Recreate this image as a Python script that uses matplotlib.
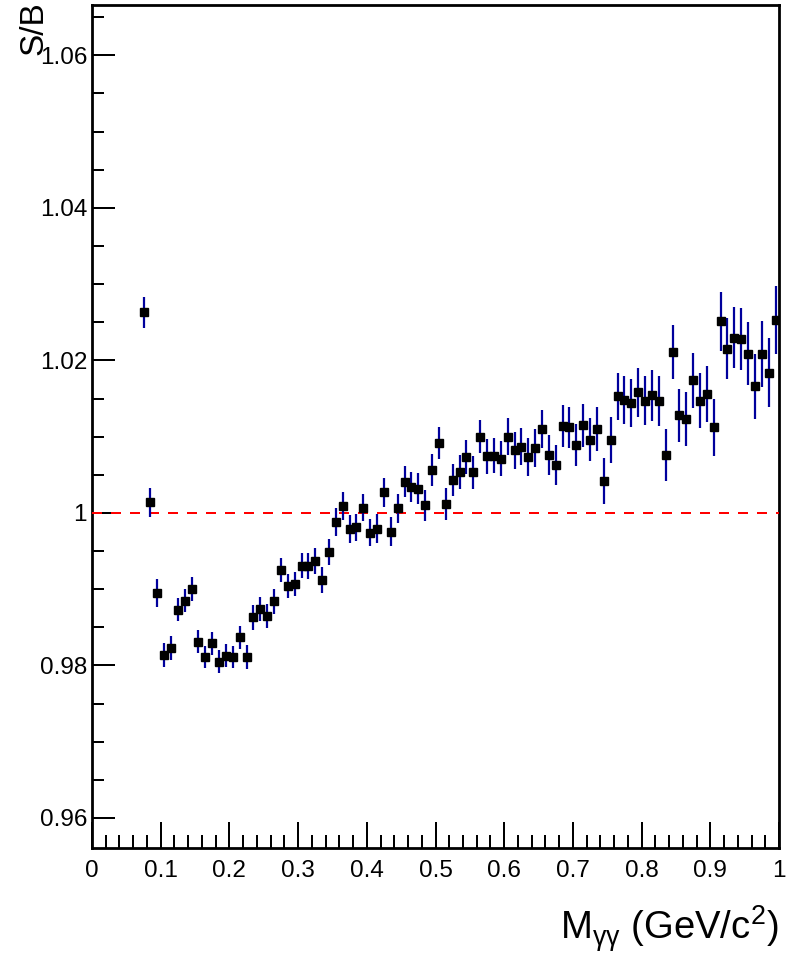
import numpy as np
import matplotlib
matplotlib.use("Agg")
import matplotlib.pyplot as plt
from matplotlib.ticker import MultipleLocator, FormatStrFormatter

plt.rcParams['font.family'] = ['Liberation Sans', 'DejaVu Sans']
plt.rcParams['mathtext.fontset'] = 'custom'
plt.rcParams['mathtext.rm'] = 'Liberation Sans'
plt.rcParams['mathtext.it'] = 'Liberation Sans:italic'

# bin centres of the diphoton mass histogram (GeV/c^2)
mass = np.round(np.arange(0.075, 1.0, 0.01), 3)

# signal / background ratio per bin
ratio = [
    1.0263, 1.0014, 0.9895, 0.9814, 0.9823, 0.9873, 0.9885, 0.9900, 0.9831, 0.9811,
    0.9829, 0.9805, 0.9813, 0.9811, 0.9837, 0.9811, 0.9863, 0.9874, 0.9865, 0.9884,
    0.9925, 0.9904, 0.9907, 0.9931, 0.9930, 0.9937, 0.9912, 0.9949, 0.9988, 1.0009,
    0.9979, 0.9981, 1.0007, 0.9974, 0.9979, 1.0027, 0.9975, 1.0006, 1.0041, 1.0034,
    1.0032, 1.0010, 1.0056, 1.0092, 1.0012, 1.0043, 1.0054, 1.0073, 1.0053, 1.0100,
    1.0074, 1.0075, 1.0071, 1.0100, 1.0082, 1.0087, 1.0073, 1.0085, 1.0110, 1.0076,
    1.0063, 1.0114, 1.0112, 1.0089, 1.0115, 1.0096, 1.0110, 1.0042, 1.0096, 1.0153,
    1.0148, 1.0144, 1.0158, 1.0147, 1.0154, 1.0147, 1.0076, 1.0211, 1.0128, 1.0123,
    1.0174, 1.0147, 1.0156, 1.0112, 1.0251, 1.0215, 1.0230, 1.0228, 1.0209, 1.0166,
    1.0208, 1.0184, 1.0253,
]

# statistical errors
ratio_err = [
    0.0020, 0.0019, 0.0018, 0.0016, 0.0016, 0.0015, 0.0015, 0.0016, 0.0015, 0.0015,
    0.0015, 0.0015, 0.0015, 0.0015, 0.0015, 0.0016, 0.0016, 0.0016, 0.0016, 0.0016,
    0.0016, 0.0016, 0.0016, 0.0017, 0.0017, 0.0017, 0.0017, 0.0017, 0.0018, 0.0018,
    0.0018, 0.0018, 0.0018, 0.0018, 0.0019, 0.0019, 0.0019, 0.0019, 0.0020, 0.0020,
    0.0020, 0.0020, 0.0021, 0.0021, 0.0021, 0.0021, 0.0022, 0.0022, 0.0022, 0.0022,
    0.0023, 0.0023, 0.0023, 0.0024, 0.0024, 0.0024, 0.0025, 0.0025, 0.0025, 0.0026,
    0.0026, 0.0027, 0.0027, 0.0027, 0.0028, 0.0028, 0.0029, 0.0030, 0.0030, 0.0031,
    0.0031, 0.0031, 0.0032, 0.0032, 0.0033, 0.0033, 0.0034, 0.0035, 0.0035, 0.0035,
    0.0036, 0.0036, 0.0037, 0.0038, 0.0039, 0.0040, 0.0040, 0.0041, 0.0041, 0.0043,
    0.0043, 0.0045, 0.0045,
]

fig = plt.figure(figsize=(7.9, 9.56), dpi=100)
ax = fig.add_axes([92 / 790, 1 - 847.7 / 956, 687 / 790, 842.7 / 956])

# reference line at S/B = 1, drawn over the axis ticks
ax.axhline(1.0, color='#ff0000', lw=1.44, dashes=(5, 4.5), zorder=3)
ax.errorbar(mass, ratio, yerr=ratio_err, fmt='none', ecolor='#00009c',
            elinewidth=1.6, capsize=0, zorder=4)
ax.plot(mass, ratio, 's', color='black', markersize=5.8, zorder=5)

ax.set_xlim(0, 1)
ax.set_ylim(0.9561, 1.0666)

ax.xaxis.set_major_locator(MultipleLocator(0.1))
ax.xaxis.set_minor_locator(MultipleLocator(0.02))
ax.yaxis.set_major_locator(MultipleLocator(0.02))
ax.yaxis.set_minor_locator(MultipleLocator(0.005))
ax.xaxis.set_major_formatter(FormatStrFormatter('%g'))
ax.yaxis.set_major_formatter(FormatStrFormatter('%g'))

ax.tick_params(which='both', direction='in', top=False, right=False, width=1.44,
               labelsize=17.5, colors='black')
ax.tick_params(axis='y', which='major', length=16.6, pad=3.6)
ax.tick_params(axis='y', which='minor', length=8.6)
ax.tick_params(axis='x', which='major', length=18.7, pad=8.5)
ax.tick_params(axis='x', which='minor', length=9.4)
for sp in ax.spines.values():
    sp.set_linewidth(2)

fig.text(778 / 790, 1 - 940 / 956, r'M$_{\mathrm{\gamma\gamma}}$ (GeV/c$^{\mathrm{2}}$)',
         ha='right', va='baseline', fontsize=27.5)
fig.text(42 / 790, 0.999, 'S/B', rotation=90, rotation_mode='anchor',
         ha='right', va='baseline', fontsize=24)

fig.savefig('out.png', dpi=100)
